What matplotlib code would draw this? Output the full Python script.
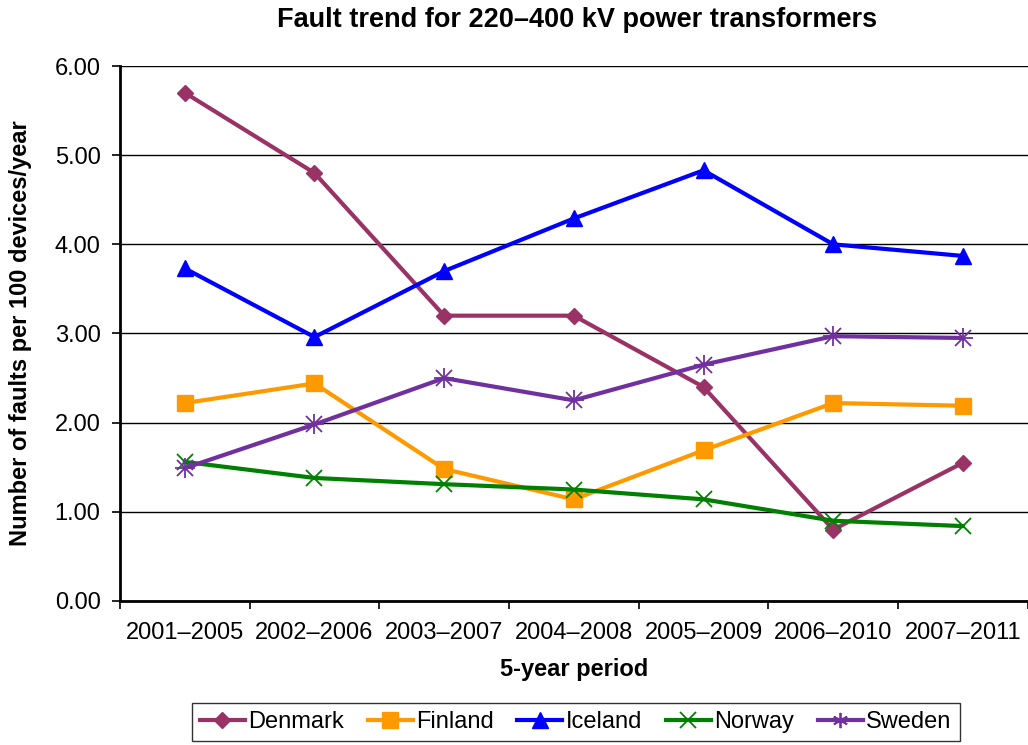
import matplotlib
matplotlib.use("Agg")
import matplotlib.pyplot as plt
from matplotlib.lines import Line2D

plt.rcParams['font.family'] = ['Liberation Sans', 'DejaVu Sans']

periods = ["2001–2005", "2002–2006", "2003–2007", "2004–2008", "2005–2009", "2006–2010", "2007–2011"]
denmark = [5.70, 4.80, 3.20, 3.20, 2.40, 0.80, 1.55]
finland = [2.22, 2.44, 1.48, 1.14, 1.69, 2.22, 2.19]
iceland = [3.73, 2.96, 3.70, 4.29, 4.83, 4.00, 3.87]
norway = [1.56, 1.38, 1.31, 1.25, 1.14, 0.90, 0.84]
sweden = [1.49, 1.98, 2.50, 2.25, 2.65, 2.97, 2.95]
yticks = [0, 1, 2, 3, 4, 5, 6]

series = [
    ("Denmark", denmark, "#993366", "D", 8),
    ("Finland", finland, "#FF9900", "s", 11),
    ("Iceland", iceland, "#0000FF", "^", 11),
    ("Norway", norway, "#008000", "x", 11),
    ("Sweden", sweden, "#7030A0", "x", 11),
]

fs = 17
fig = plt.figure(figsize=(10.28, 7.45), dpi=100)
ax = fig.add_axes([0.1167, 0.1933, 0.883, 0.7181])

x = list(range(len(periods)))
for name, vals, col, mk, ms in series:
    if name == "Sweden":
        ax.plot(x, vals, color=col, lw=3, marker="x", ms=ms, mew=1.3, zorder=3)
        ax.plot(x, vals, color=col, lw=0, marker="+", ms=ms + 3, mew=1.3, zorder=3)
    elif name == "Norway":
        ax.plot(x, vals, color=col, lw=3, marker="x", ms=ms, mew=1.3, zorder=3)
    else:
        ax.plot(x, vals, color=col, lw=3, marker=mk, ms=ms, mec=col, mfc=col, zorder=3)

ax.set_xlim(-0.5, len(periods) - 0.5)
ax.set_ylim(0, 6)
ax.set_yticks(yticks)
ax.set_yticklabels([f"{v:.2f}" for v in yticks], fontsize=fs)
ax.yaxis.grid(True, color="black", lw=1.0)
ax.set_axisbelow(True)

ax.set_xticks([i - 0.5 for i in range(len(periods) + 1)])
ax.set_xticklabels([])
ax.set_xticks(x, minor=True)
ax.set_xticklabels(periods, minor=True, fontsize=fs)
ax.tick_params(axis="x", which="major", direction="out", length=6, width=1.2)
ax.tick_params(axis="x", which="minor", length=0, pad=15)
ax.tick_params(axis="y", direction="out", length=6, width=1.2, pad=8)

for s in ["top", "right"]:
    ax.spines[s].set_visible(False)
for s in ["left", "bottom"]:
    ax.spines[s].set_linewidth(2)

ax.set_xlabel("5-year period", fontsize=fs, fontweight="bold", labelpad=10)
ax.set_ylabel("Number of faults per 100 devices/year", fontsize=fs, fontweight="bold", labelpad=16)
fig.suptitle("Fault trend for 220–400 kV power transformers", fontsize=19.5, fontweight="bold", x=0.561, y=0.99)

handles = []
for name, vals, col, mk, ms in series:
    if name == "Sweden":
        handles.append(Line2D([0], [0], color=col, lw=3, marker=(6, 2, 0), ms=ms, mew=1.3))
    elif name == "Norway":
        handles.append(Line2D([0], [0], color=col, lw=3, marker="x", ms=ms, mew=1.3))
    else:
        handles.append(Line2D([0], [0], color=col, lw=3, marker=mk, ms=ms, mec=col, mfc=col))
leg = fig.legend(handles, [s[0] for s in series], loc="lower center", bbox_to_anchor=(0.56, 0.0),
                 ncol=5, fontsize=fs, frameon=True, fancybox=False, edgecolor="black",
                 handlelength=1.9, handletextpad=0.15, columnspacing=1.0, borderpad=0.35,
                 borderaxespad=0.15)
leg.get_frame().set_linewidth(1.0)

fig.savefig("out.png", dpi=100)
